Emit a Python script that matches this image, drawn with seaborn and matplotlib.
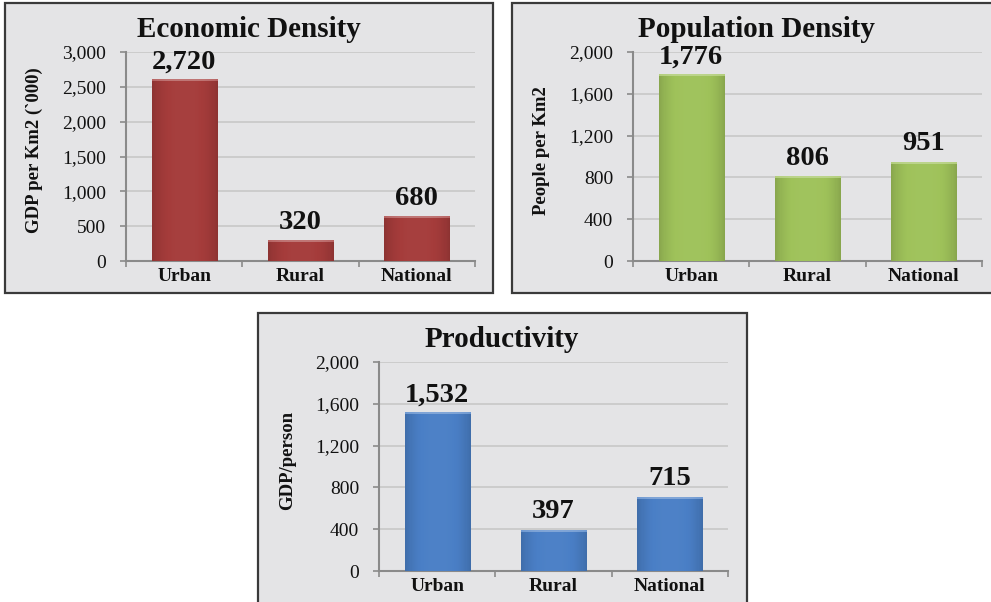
import numpy as np
import pandas as pd
import matplotlib
matplotlib.use("Agg")
import matplotlib.pyplot as plt
from matplotlib.patches import Rectangle
from matplotlib.ticker import FuncFormatter, FixedLocator
import seaborn as sns

# ---------------- data ----------------
categories = ["Urban", "Rural", "National"]

econ_values = [2600, 297, 645]          # bar heights as drawn
econ_labels = ["2,720", "320", "680"]   # printed labels

pop_values = [1780, 804, 947]
pop_labels = ["1,776", "806", "951"]

prod_values = [1512, 392, 708]
prod_labels = ["1,532", "397", "715"]

titles = ["Economic Density", "Population Density", "Productivity"]
ylabels = ["GDP per Km2 (`000)", "People per Km2", "GDP/person"]
yticks_econ = [0, 500, 1000, 1500, 2000, 2500, 3000]
yticks_pop = [0, 400, 800, 1200, 1600, 2000]
yticks_prod = [0, 400, 800, 1200, 1600, 2000]

# ---------------- style ----------------
sns.set_style("white")
plt.rcParams["font.family"] = ["Liberation Serif", "DejaVu Serif"]

W, H = 991, 602
fig = plt.figure(figsize=(W / 100, H / 100), dpi=100)
fig.patch.set_facecolor("white")

BG = "#e4e4e6"


def fx(px):
    return px / W


def fy(py):
    return 1 - py / H


def panel_box(x0, y0, x1, y1):
    r = Rectangle((fx(x0), fy(y1)), fx(x1) - fx(x0), fy(y0) - fy(y1),
                  transform=fig.transFigure, facecolor=BG,
                  edgecolor="#3a3a3a", linewidth=1.6, zorder=-10)
    fig.patches.append(r)


def shade(c, f):
    c = np.array(matplotlib.colors.to_rgb(c))
    if f >= 0:
        return c + (1 - c) * f
    return c * (1 + f)


def make_panel(ax_px, box_center_x, title_baseline, values, labels, yticks,
               ymax, color, title, ylabel):
    x0, y0, x1, y1 = ax_px
    ax = fig.add_axes([fx(x0), fy(y1), fx(x1) - fx(x0), fy(y0) - fy(y1)])
    ax.patch.set_visible(False)
    df = pd.DataFrame({"cat": categories, "val": values})
    sns.barplot(data=df, x="cat", y="val", color=color, saturation=1,
                width=0.56, ax=ax, zorder=3, edgecolor="none")
    ax.set_xlim(-0.5, 2.5)
    ax.set_ylim(0, ymax)

    # gradient overlay on each bar
    pix_h = (y1 - y0)
    for p in ax.patches:
        bx, by, bw, bh = p.get_x(), p.get_y(), p.get_width(), p.get_height()
        nx, ny = 60, 600
        t = np.linspace(-1, 1, nx)
        edge = np.abs(t) ** 3
        base = np.array([shade(color, -0.16 * e + 0.02) for e in edge])
        img = np.repeat(base[None, :, :], ny, axis=0)
        bar_px = bh / ymax * pix_h
        top_frac = min(0.4, 2.2 / max(bar_px, 1))
        rows = np.linspace(0, 1, ny)
        hl = rows > (1 - top_frac)
        light = np.array([shade(color, 0.3 - 0.1 * e) for e in edge])
        img[hl] = light[None, :, :]
        img = np.clip(img, 0, 1)
        ax.imshow(img, extent=[bx, bx + bw, by, by + bh], origin="lower",
                  aspect="auto", zorder=4, interpolation="nearest")
    ax.set_xlim(-0.5, 2.5)
    ax.set_ylim(0, ymax)

    # value labels
    for i, (v, lab) in enumerate(zip(values, labels)):
        ax.annotate(lab, (i, v), xytext=(0, 4), textcoords="offset points",
                    ha="center", va="bottom", fontsize=20.5, fontweight="bold",
                    color="#111111", zorder=6)

    # axes styling
    ax.yaxis.set_major_locator(FixedLocator(yticks))
    ax.yaxis.set_major_formatter(FuncFormatter(lambda v, p: f"{v:,.0f}"))
    ax.grid(axis="y", color="#cacaca", linewidth=1.3, zorder=1)
    ax.set_axisbelow(True)
    for s in ["top", "right"]:
        ax.spines[s].set_visible(False)
    for s in ["left", "bottom"]:
        ax.spines[s].set_color("#8a8a8a")
        ax.spines[s].set_linewidth(1.5)
    ax.tick_params(axis="y", which="major", direction="out", length=4.3,
                   width=1.2, color="#8a8a8a", pad=10, labelsize=14,
                   labelcolor="#111111", left=True)
    ax.tick_params(axis="x", which="major", length=0, pad=5, labelsize=14,
                   labelcolor="#111111")
    ax.xaxis.set_minor_locator(FixedLocator([-0.5, 0.5, 1.5, 2.5]))
    ax.tick_params(axis="x", which="minor", direction="out", length=4,
                   width=1.2, color="#8a8a8a", bottom=True)
    for lbl in ax.get_xticklabels():
        lbl.set_fontweight("bold")
    ax.set_xlabel("")
    ax.set_ylabel(ylabel, fontsize=13.5, fontweight="bold", color="#111111")
    ax.yaxis.set_label_coords(-83 / (x1 - x0), 0.53)

    fig.text(fx(box_center_x), fy(title_baseline), title, ha="center",
             va="baseline", fontsize=21, fontweight="bold", color="#111111")
    return ax


# panel frames
panel_box(5, 3, 493, 293)
panel_box(512, 3, 1005, 293)
panel_box(258, 313, 747, 615)

make_panel((126, 52, 475, 261), 249, 37, econ_values, econ_labels,
           yticks_econ, 3000, "#a53c3b", titles[0], ylabels[0])
make_panel((633, 52, 982, 261), 756, 37, pop_values, pop_labels,
           yticks_pop, 2000, "#9fc25a", titles[1], ylabels[1])
make_panel((379, 362, 728, 571), 502, 347, prod_values, prod_labels,
           yticks_prod, 2000, "#4a7fc6", titles[2], ylabels[2])

fig.savefig("out.png", dpi=100, facecolor="white")
